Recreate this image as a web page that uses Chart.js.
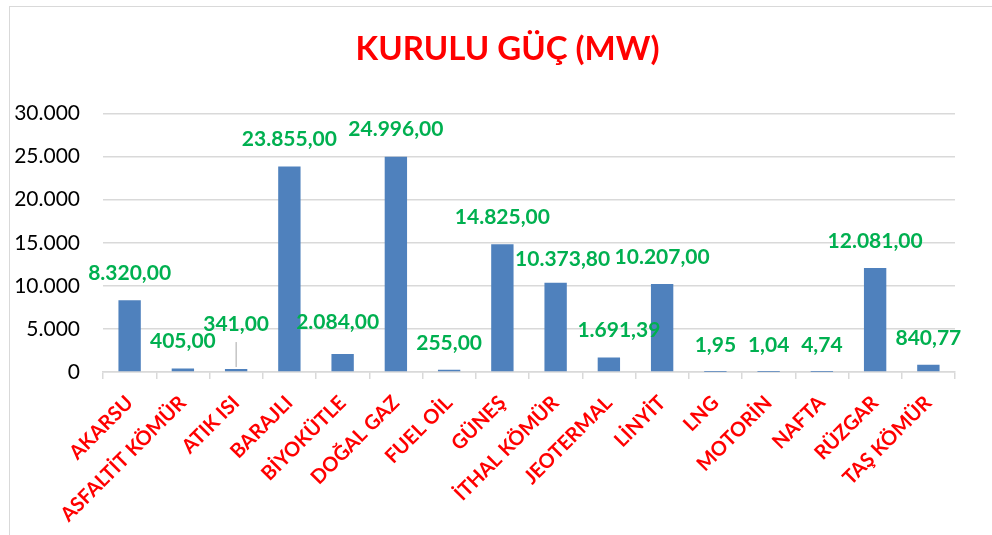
<!DOCTYPE html>
<html>
<head>
<meta charset="utf-8">
<script src="https://cdn.jsdelivr.net/npm/chart.js@4"></script>
<style>
  html, body { margin: 0; padding: 0; background: #fff; overflow: hidden; }
  #frame { position: absolute; left: 9px; top: 6px; width: 1200px; height: 800px;
           border-left: 1px solid #d9d9d9; border-top: 1px solid #d9d9d9; }
  #c { position: absolute; left: 0; top: 0; }
</style>
</head>
<body>
<div id="frame"></div>
<canvas id="c" width="992" height="535"></canvas>
<script>
// --- data -----------------------------------------------------------
const categories = ['AKARSU', 'ASFALTİT KÖMÜR', 'ATIK ISI', 'BARAJLI', 'BİYOKÜTLE',
  'DOĞAL GAZ', 'FUEL OİL', 'GÜNEŞ', 'İTHAL KÖMÜR', 'JEOTERMAL', 'LİNYİT', 'LNG',
  'MOTORİN', 'NAFTA', 'RÜZGAR', 'TAŞ KÖMÜR'];
const installedMW = [8320.00, 405.00, 341.00, 23855.00, 2084.00, 24996.00, 255.00,
  14825.00, 10373.80, 1691.39, 10207.00, 1.95, 1.04, 4.74, 12081.00, 840.77];
const yTicks = [0, 5000, 10000, 15000, 20000, 25000, 30000];

// Turkish style number: 23.855,00
function trNum(v, dec) {
  const parts = v.toFixed(dec).split('.');
  const i = parts[0].replace(/\B(?=(\d{3})+(?!\d))/g, '.');
  return parts[1] ? i + ',' + parts[1] : i;
}

// value labels above bars (Excel style), with a few hand nudges
const valueLabels = {
  id: 'valueLabels',
  afterDatasetsDraw(chart, args, opts) {
    const ctx = chart.ctx;
    const meta = chart.getDatasetMeta(0);
    ctx.save();
    ctx.font = 'bold 21px Lato';
    ctx.fillStyle = '#00b050';
    ctx.textAlign = 'center';
    ctx.textBaseline = 'middle';
    meta.data.forEach((bar, i) => {
      const n = opts.nudge[i] || [0, 0];
      const x = bar.x + n[0];
      const y = bar.y - opts.offset + n[1];
      ctx.fillText(trNum(chart.data.datasets[0].data[i], 2), x, y);
      if (opts.leader.includes(i)) {
        ctx.strokeStyle = '#a6a6a6';
        ctx.lineWidth = 1;
        ctx.beginPath();
        ctx.moveTo(bar.x, y + 18);
        ctx.lineTo(bar.x, bar.y - 2);
        ctx.stroke();
      }
    });
    ctx.restore();
  }
};

// the original title sits a bit right of the canvas centre
const titleShift = {
  id: 'titleShift',
  afterLayout(chart) { if (chart.titleBlock) chart.titleBlock.left = 60; }
};

new Chart(document.getElementById('c'), {
  type: 'bar',
  data: {
    labels: categories,
    datasets: [{
      data: installedMW,
      backgroundColor: '#4f81bd',
      categoryPercentage: 1,
      barPercentage: 0.42
    }]
  },
  options: {
    responsive: false, animation: false,
    layout: { padding: { top: 12, right: 37, left: 0, bottom: 0 } },
    scales: {
      x: {
        grid: { drawOnChartArea: false, color: '#d9d9d9', lineWidth: 1.5, tickLength: 7, offset: true },
        border: { color: '#d9d9d9', width: 1.5 },
        ticks: { color: '#ff0000', font: { family: 'Lato', weight: 'bold', size: 20 },
                 minRotation: 45, maxRotation: 45, padding: 12, autoSkip: false },
        afterFit(s) { s.height = 163; }
      },
      y: {
        min: 0, max: 30000,
        afterBuildTicks(s) { s.ticks = yTicks.map(v => ({ value: v })); },
        grid: { color: '#d9d9d9', lineWidth: 1.5, drawTicks: false },
        border: { display: false },
        ticks: { color: '#000', font: { family: 'Lato', size: 21 }, padding: 23,
                 callback: v => trNum(v, 0) },
        afterFit(s) { s.width = 103; }
      }
    },
    plugins: {
      legend: { display: false },
      tooltip: { enabled: false },
      title: { display: true, text: 'KURULU GÜÇ (MW)', color: '#ff0000',
               font: { family: 'Lato', weight: 'bold', size: 33, lineHeight: 1.2 },
               padding: { top: 18, bottom: 44 } },
      valueLabels: {
        offset: 27,
        leader: [2],
        nudge: { 2: [0, -18], 4: [-5, -5], 8: [7, 4], 9: [10, 0] }
      }
    }
  },
  plugins: [valueLabels, titleShift]
});
</script>
</body>
</html>
